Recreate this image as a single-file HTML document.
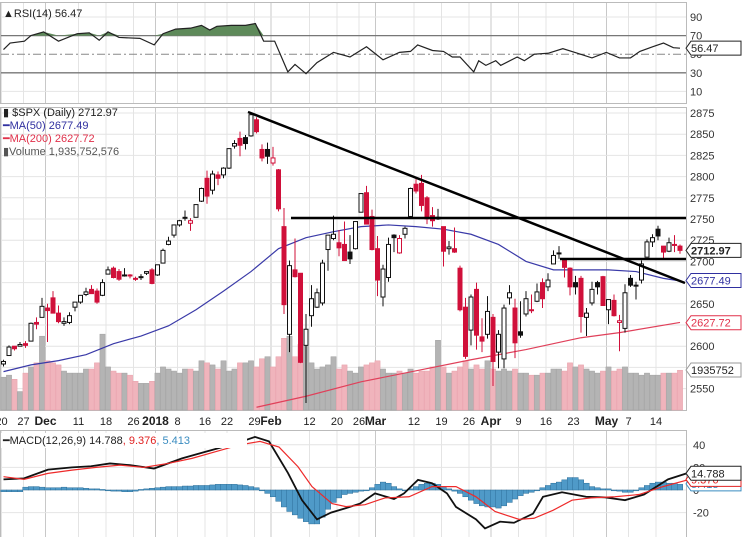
<!DOCTYPE html>
<html><head><meta charset="utf-8"><style>
html,body{margin:0;padding:0;background:#fff;width:742px;height:537px;overflow:hidden}
svg{display:block;font-family:"Liberation Sans",sans-serif}
</style></head><body>
<svg id="c" width="742" height="537" viewBox="0 0 742 537"></svg>
<script>
const opens=[2579,2589,2600,2600,2603,2606,2628,2634,2645,2657,2639,2627,2628,2646,2652,2661,2667,2665,2660,2685,2692,2688,2683,2684,2680,2682,2686,2690,2684,2698,2720,2731,2743,2752,2745,2752,2771,2798,2784,2802,2802,2810,2836,2845,2846,2848,2867,2832,2832,2816,2808,2741,2614,2690,2686,2601,2636,2646,2651,2714,2727,2722,2720,2711,2715,2758,2781,2753,2715,2658,2681,2731,2710,2732,2753,2791,2792,2775,2754,2750,2741,2715,2715,2692,2646,2619,2667,2611,2614,2634,2593,2585,2657,2645,2617,2638,2643,2653,2675,2670,2697,2710,2702,2692,2675,2680,2634,2651,2675,2682,2643,2654,2628,2621,2680,2671,2678,2705,2723,2738,2718,2712,2719,2718];
const highs=[2584,2601,2600,2605,2606,2628,2634,2657,2650,2665,2648,2634,2640,2652,2660,2669,2672,2668,2679,2694,2694,2691,2692,2685,2682,2685,2688,2692,2696,2715,2729,2743,2749,2760,2751,2767,2787,2807,2807,2806,2811,2833,2843,2853,2849,2873,2870,2838,2840,2835,2809,2763,2701,2727,2686,2638,2672,2668,2702,2731,2754,2737,2747,2731,2747,2780,2789,2761,2730,2696,2728,2732,2731,2741,2787,2797,2802,2777,2764,2762,2741,2724,2740,2695,2657,2661,2675,2633,2659,2638,2619,2649,2672,2656,2653,2665,2661,2674,2680,2686,2713,2718,2703,2693,2683,2683,2645,2676,2677,2683,2655,2661,2637,2673,2684,2676,2701,2726,2732,2742,2718,2728,2731,2720];
const lows=[2576,2589,2595,2600,2598,2606,2620,2634,2605,2639,2627,2624,2626,2641,2650,2659,2662,2650,2659,2685,2680,2677,2682,2680,2677,2678,2684,2673,2683,2698,2719,2728,2741,2748,2736,2752,2770,2768,2779,2790,2798,2809,2833,2824,2832,2847,2851,2818,2815,2813,2759,2638,2593,2681,2580,2533,2623,2645,2648,2689,2725,2706,2701,2697,2714,2758,2744,2713,2659,2647,2676,2711,2709,2727,2751,2780,2759,2744,2741,2749,2694,2708,2710,2641,2585,2601,2596,2593,2609,2553,2574,2574,2649,2586,2610,2635,2639,2652,2645,2665,2697,2703,2681,2660,2661,2616,2612,2648,2661,2648,2626,2635,2594,2616,2670,2655,2674,2705,2717,2725,2702,2711,2711,2709];
const closes=[2582,2599,2597,2602,2601,2627,2626,2647,2642,2639,2629,2629,2636,2652,2660,2664,2662,2652,2675,2690,2681,2679,2684,2683,2680,2682,2688,2674,2696,2713,2724,2743,2748,2751,2748,2767,2786,2777,2803,2798,2810,2833,2839,2837,2839,2873,2853,2822,2824,2822,2762,2649,2695,2682,2581,2620,2656,2663,2698,2731,2732,2716,2701,2703,2747,2780,2744,2714,2678,2691,2720,2728,2727,2739,2786,2783,2766,2750,2748,2752,2712,2717,2711,2643,2588,2658,2613,2606,2641,2582,2614,2645,2663,2604,2613,2656,2642,2664,2656,2678,2707,2709,2693,2670,2670,2635,2639,2667,2670,2648,2655,2636,2630,2663,2672,2672,2697,2723,2728,2730,2711,2722,2720,2713];
const volumes=[1.6,1.7,1.5,0.9,1.8,2.1,2.3,3.6,2.4,2.3,2.2,1.9,1.8,1.8,1.8,2.0,2.0,2.3,3.7,2.1,1.9,1.8,1.8,1.7,1.4,1.3,1.3,1.4,1.8,2.1,2.0,1.9,1.8,2.0,2.0,1.9,2.4,2.3,2.2,2.0,2.4,1.9,2.0,2.3,2.3,2.4,2.1,2.5,2.6,2.1,2.6,3.5,3.6,2.6,3.2,3.1,2.3,2.0,2.1,2.2,2.6,2.0,2.2,1.9,1.8,2.1,2.2,2.3,2.4,2.0,1.8,1.8,1.9,1.8,2.0,1.8,1.9,1.9,2.1,3.4,2.1,1.8,1.9,2.1,2.4,2.0,2.2,2.0,2.4,2.0,1.9,2.0,1.9,2.0,1.8,1.8,1.7,1.7,1.8,1.8,2.0,2.0,1.9,2.3,2.1,2.2,2.0,1.9,1.8,1.9,2.1,1.9,2.0,2.1,1.8,1.8,1.7,1.8,1.7,1.7,1.8,1.8,1.8,1.94];
const ma50Day=[0,5,10,15,20,25,30,35,40,45,50,55,60,65,70,75,80,85,90,95,100,105,110,115,120,123];
const ma50Val=[2570,2578,2583,2590,2603,2612,2624,2643,2665,2688,2715,2728,2735,2741,2743,2741,2738,2732,2720,2700,2690,2690,2690,2688,2680,2677];
const ma200Day=[46,55,65,75,85,95,105,112,123];
const ma200Val=[2528,2541,2558,2571,2584,2596,2610,2616,2628];
const rsiDay=[0,1.2,3.8,5,7.3,10,13.4,15.6,17.4,19,21,24.8,27.4,29,31.3,34,36,37.5,38.8,41.4,44,45.8,47.3,49.3,51.7,53,55,57,60,63,66,69,72,74,75.3,78,80,81.6,83,85.5,86.4,87.7,89.5,90.4,93.4,94.7,96.5,99,101.7,104.4,107,109.6,112,114,115.7,118,120,121.8,123];
const rsiVal=[55,62,64,70,74,64,72,73,65,74,68,67,60,72,77,78,81,76,80,81,81,83,64,64,31,39,29,41,52,47,58,44,52,53,60,54,53,47,47,31,43,38,43,38,47,43,50,51,56,51,46,52,46,46,53,58,62,57,56.47];
const macdVal=[9.4,10.3,18,20,21,23.5,22,19,28,34,41,47,43,15,-9,-26,-20,-16,-12,-3,-8,-3,9,6,-3,-15,-26,-34,-28,-29,-21,-6,-2,-6,-6.5,-9,-4,9.4,14.8];
const sigVal=[11.8,9.4,14.7,17.6,20,22,20,23.5,28,34,40,43,38,20.6,3,-12,-14.7,-13,-7,-6,3,3,-6,-19,-26,-25,-18,-9,-7,-6,-4,3,8.8,9.4];
const histVal=[-1.5,-1.5,-1.5,-1.5,2.5,3,3,2.5,2,2,2,2.5,2,2,2,1.5,1,1,0.5,-0.5,-1,-1,-1.5,-1.5,-1,0.5,1,1.5,2,2.5,3,3,3,3.5,3.5,4,4,4,4.5,5,5,5,5,4.5,4,3,2,0,-3,-6,-10,-15,-19,-22,-25,-28,-30,-30,-24,-17,-11,-7,-4,-3,-2,-1,0,2,5,7,6,3,1,0,1,3,5,6,6,5,3,1,-1,-3,-6,-9,-12,-14,-15,-15,-16,-14,-11,-8,-5,-3,-2,0,2,4,6,7,9,11,11,9,6,3,2,1,1,0,-1,-2,-2,0,2,4,6,7,7,6,6,5];
const tickDay=[0,4,8,14,19,24,28,32,37,41,46,49,56,61,65,68,75,80,85,89,94,99,104,110,114,119];
const tickLabel=["20","27","Dec","11","18","26","2018","8","16","22","29","Feb","12","20","26","Mar","12","19","26","Apr","9","16","23","May","7","14"];
const priceTicks=[2875,2850,2825,2800,2775,2750,2725,2700,2675,2650,2625,2600,2575,2550];
const rsiTicks=[90,70,50,30,10];
const macdTicks=[40,20,0,-20];
</script>
<script>
const svg=document.getElementById('c');const NS='http://www.w3.org/2000/svg';
function mk(t,a,parent){const e=document.createElementNS(NS,t);for(const k in a)e.setAttribute(k,a[k]);(parent||svg).appendChild(e);return e;}
const X=d=>3.5+d*5.5;
const PY=p=>113+(2875-p)*0.848;
const RY=v=>17+(90-v)*0.93;
const MY=v=>490-v*1.13;
const R=686;
let g;
g=mk('g',{});
mk('rect',{x:0.5,y:2.5,width:R,height:101,fill:'#fff',stroke:'#bbb'},g);
g=mk('g',{});
mk('rect',{x:0.5,y:107.5,width:R,height:303,fill:'#fff',stroke:'#bbb'},g);
g=mk('g',{});
mk('rect',{x:0.5,y:430.5,width:R,height:110,fill:'#fff',stroke:'#bbb'},g);
tickDay.forEach((d,i)=>{const x=X(d)-2;const bold=isNaN(+tickLabel[i])||tickLabel[i]==='2018';
 [[3,103],[108,410],[431,537]].forEach(r=>{const l=mk('line',{x1:x,x2:x,y1:r[0],y2:r[1],stroke:bold?'#c8c8c8':'#e4e4e4'});});
 const t=mk('text',{x:x,y:425,'font-size':bold?12:11,'font-weight':bold?'bold':'normal','text-anchor':'middle',fill:'#222'});t.textContent=tickLabel[i];
 });
priceTicks.forEach(p=>{const y=PY(p);const l=mk('line',{x1:1,x2:R,y1:y,y2:y,stroke:'#e4e4e4'});
 const t=mk('text',{x:690,y:y+4,'font-size':11,fill:'#333'});t.textContent=p;});
volumes.forEach((v,i)=>{const up=i==0||closes[i]>=closes[i-1];const h=v*20.5;
 const b=mk('rect',{x:X(i)-2.6,y:410-h,width:5.2,height:h,fill:up?'#b4b4b4':'#f0b4bc',stroke:up?'#a0a0a0':'#e8a0aa','stroke-width':0.5});
 });
function poly(days,vals,fy,col,w,name){const pts=days.map((d,i)=>X(d)+','+fy(vals[i])).join(' ');const p=mk('polyline',{points:pts,fill:'none',stroke:col,'stroke-width':w});return p;}
poly(ma50Day,ma50Val,PY,'#3a3aa8',1.2,'ma50-line');
poly(ma200Day,ma200Val,PY,'#e0405a',1.2,'ma200-line');
closes.forEach((c,i)=>{const o=opens[i];const up=i==0||c>=closes[i-1];const col=up?'#111':'#d0103a';
 const cg=mk('g',{});
 mk('line',{x1:X(i),x2:X(i),y1:PY(highs[i]),y2:PY(lows[i]),stroke:col,'stroke-width':1},cg);
 const top=PY(Math.max(o,c)),bot=PY(Math.min(o,c));
 mk('rect',{x:X(i)-2,y:top,width:4,height:Math.max(1,bot-top),fill:c>o?'#fff':col,stroke:col,'stroke-width':1},cg);});
[[248,112,685,283],[291,218,686,218],[560,259,686,259]].forEach(a=>{const l=mk('line',{x1:a[0],y1:a[1],x2:a[2],y2:a[3],stroke:'#000','stroke-width':2.5});});
const leg=[["▮ $SPX (Daily) 2712.97",'#222',116],["━MA(50) 2677.49",'#3030a0',129],["━MA(200) 2627.72",'#e0304a',142],["▮Volume 1,935,752,576",'#555',155]];
leg.forEach(l=>{const t=mk('text',{x:3,y:l[2],'font-size':11,fill:l[1]});t.textContent=l[0];});
function tag(y,txt,col,bold,fill){const gg=mk('g',{});
 mk('path',{d:`M686,${y} l5,-7 h50 v14 h-50 z`,fill:fill||'#fff',stroke:col},gg);
 const t=mk('text',{x:691,y:y+4,'font-size':11,'font-weight':bold?'bold':'normal',fill:col==='#999'?'#222':col},gg);t.textContent=txt;}
tag(PY(2712.97),'2712.97','#222',true);
tag(PY(2677.49),'2677.49','#3030a0');
tag(PY(2627.72),'2627.72','#e0304a');
tag(370,'1935752','#999');
rsiTicks.forEach(v=>{const y=RY(v);const s=v==70||v==30;const l=mk('line',{x1:1,x2:R,y1:y,y2:y,stroke:s?'#777':(v==50?'#888':'#e4e4e4'),'stroke-width':s?1.3:1,'stroke-dasharray':v==50?'8,3,2,3':'none'});
 const t=mk('text',{x:690,y:y+4,'font-size':11,fill:'#333'});t.textContent=v;});
{let pts=[];rsiDay.forEach((d,i)=>{pts.push([X(d),RY(Math.max(70,rsiVal[i]))]);});
 const a=mk('polygon',{points:pts.map(p=>p.join(',')).join(' ')+` ${X(rsiDay[rsiDay.length-1])},${RY(70)} ${X(0)},${RY(70)}`,fill:'#5e8a5a'});}
poly(rsiDay,rsiVal,RY,'#222',1.2,'rsi-line');
{const t=mk('text',{x:3,y:17,'font-size':11,fill:'#222'});t.textContent='▲RSI(14) 56.47';}
tag(RY(56.47),'56.47','#222');
macdTicks.forEach(v=>{const y=MY(v);const l=mk('line',{x1:1,x2:R,y1:y,y2:y,stroke:'#e4e4e4'});
 const t=mk('text',{x:693,y:y+4,'font-size':11,fill:'#333'});t.textContent=v;});
histVal.forEach((v,i)=>{const y0=MY(0),y1=MY(v);const b=mk('rect',{x:X(i)-2.75,y:Math.min(y0,y1),width:5.5,height:Math.max(0.8,Math.abs(y1-y0)),fill:'#4f9ac8',stroke:'#2c6f9a','stroke-width':0.5});});
const md=[0,24,48,72,91,110,130,154,182,206,235,255,269,288,302,317,331,346,360,375,394,404,418,432,447,456,476,485,500,514,533,543,562,586,605,625,644,668,687].map(x=>(x-3.5)/5.5);
poly(md.map(d=>Math.max(0,d)),macdVal,MY,'#111',1.8,'macd-line');
const sd=[0,24,48,72,96,120,144,168,192,216,240,260,279,298,312,332,346,365,385,409,432,456,476,495,519,534,553,572,591,615,639,663,687,690].map(x=>(x-3.5)/5.5);
poly(sd.map(d=>Math.max(0,d)),sigVal,MY,'#ee2a2a',1.2,'signal-line');
{const bg=mk('rect',{x:1,y:433,width:246,height:15,fill:'#fff'});
 const t=mk('text',{x:3,y:444,'font-size':11,fill:'#222'});
 t.innerHTML='━MACD(12,26,9) 14.788<tspan fill="#e02020">, 9.376</tspan><tspan fill="#3a8cc0">, 5.413</tspan>';}
tag(MY(5.4),'5.413','#3a8cc0');
tag(MY(9.4),'9.376','#e02020');
tag(MY(14.8),'14.788','#222');
</script>
</body></html>
